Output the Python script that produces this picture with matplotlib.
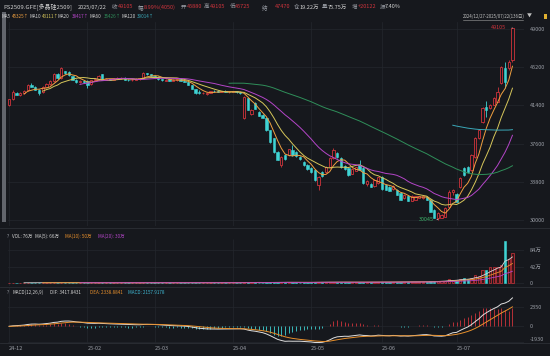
import numpy as np
import pandas as pd
import matplotlib
matplotlib.use("Agg")
import matplotlib.pyplot as plt

plt.rcParams['font.family'] = ['Noto Sans CJK SC', 'DejaVu Sans']

# trading calendar PS2509 (2024/12/27 - 2025/07/22)
holidays = ['2025-01-01', '2025-01-28', '2025-01-29', '2025-01-30', '2025-01-31',
            '2025-02-03', '2025-02-04', '2025-04-04', '2025-05-01', '2025-05-02',
            '2025-05-05', '2025-06-02']
dates = pd.bdate_range('2024-12-27', '2025-07-22')
dates = dates[~dates.isin(pd.to_datetime(holidays))]

opens = [41400, 42050, 42650, 42450, 42650, 42900, 43450, 43250, 42950, 42700,
         43250, 43500, 43800, 44500, 44100, 44800, 44700, 44300, 43950, 43700,
         43800, 43850, 43500, 43900, 44000, 44500, 43950, 44000, 43950, 44050,
         44100, 44150, 43950, 43900, 43950, 44050, 44150, 44600, 44500, 44350,
         44250, 44000, 43850, 44000, 43850, 43900, 44000, 43850, 43750, 43400,
         43000, 42700, 42600, 42550, 42650, 42850, 42800, 42750, 42850, 42700,
         42750, 42800, 42700, 40150, 42100, 40500, 41600, 40750, 40450, 40150,
         38950, 38160, 36770, 35470, 36470, 36470, 36960, 36770, 36270, 35770,
         35470, 35170, 34980, 33480, 34780, 34780, 35270, 36170, 36700, 36170,
         35370, 35170, 34600, 34900, 35470, 35170, 33600, 33580, 33380, 33680,
         34310, 33480, 33280, 33080, 32990, 32690, 32190, 32390, 31900, 32000,
         32200, 32150, 32300, 31990, 30990, 30200, 30200, 30300, 31300, 32800,
         32600, 33300, 35170, 35270, 34980, 36270, 38160, 39700, 41250, 41150,
         41450, 41740, 43630, 45120, 45100, 45880]
highs = [42050, 42950, 42700, 42750, 42900, 43500, 43600, 43300, 43000, 43300,
         43600, 43900, 44600, 44600, 45250, 44850, 44800, 44350, 44000, 43900,
         43900, 43900, 43950, 44100, 44450, 44550, 44100, 44050, 44100, 44200,
         44200, 44200, 44000, 44000, 44100, 44150, 44700, 44650, 44550, 44400,
         44300, 44050, 44000, 44100, 44000, 44050, 44100, 43900, 43800, 43450,
         43050, 42950, 42750, 42700, 42850, 42900, 42900, 42850, 42900, 42800,
         42850, 42850, 42750, 42300, 42150, 41000, 41700, 40850, 40500, 40200,
         39000, 38200, 36850, 36350, 36550, 37100, 37460, 36850, 36350, 35850,
         35550, 35250, 35050, 34350, 34850, 35350, 36250, 37200, 36800, 36250,
         35450, 35200, 35150, 35300, 35970, 35250, 33950, 33650, 34050, 34300,
         34400, 33550, 33350, 33450, 33050, 32750, 32550, 32450, 32450, 32400,
         32400, 32400, 32350, 32050, 31050, 30750, 30550, 31250, 33000, 33100,
         32700, 34300, 35300, 35350, 36550, 38250, 39050, 41250, 41840, 41500,
         42200, 43200, 45300, 45720, 45900, 49105]
lows = [41300, 41950, 42400, 42350, 42550, 42850, 43200, 42900, 42450, 42650,
        43200, 43450, 43750, 44050, 44050, 44500, 44350, 43900, 43650, 43600,
        43650, 43150, 43450, 43850, 43950, 43900, 43900, 43900, 43900, 44000,
        44050, 43900, 43850, 43850, 43900, 43950, 44100, 44450, 44300, 44200,
        43950, 43850, 43800, 43800, 43800, 43850, 43800, 43700, 43400, 43000,
        42550, 42500, 42500, 42450, 42600, 42750, 42700, 42700, 42700, 42650,
        42700, 42650, 42550, 40000, 40900, 40400, 41000, 40300, 40100, 38900,
        37700, 36700, 35950, 35300, 36000, 36400, 36400, 36300, 36000, 35400,
        35000, 34700, 33900, 32990, 34300, 34700, 35200, 36100, 36200, 35200,
        35000, 34400, 34550, 34850, 34950, 33600, 33400, 33250, 33300, 33600,
        33000, 32950, 32850, 33000, 32450, 31950, 32100, 31850, 31850, 31950,
        32150, 32100, 31950, 30750, 30150, 30045, 30150, 30250, 31250, 32500,
        31750, 33200, 34400, 34700, 34900, 36200, 38100, 39600, 40250, 41000,
        41400, 41700, 43550, 43130, 44900, 45725]
closes = [42000, 42750, 42450, 42650, 42800, 43400, 43250, 42950, 42650, 43250,
          43550, 43850, 44500, 44100, 45100, 44600, 44400, 43950, 43700, 43800,
          43750, 43450, 43900, 44050, 44350, 43950, 44000, 43950, 44050, 44150,
          44150, 43950, 43900, 43950, 44050, 44100, 44600, 44500, 44350, 44250,
          44000, 43900, 43950, 43850, 43950, 44000, 43850, 43750, 43450, 43050,
          42650, 42600, 42650, 42650, 42800, 42800, 42750, 42800, 42750, 42750,
          42800, 42700, 42600, 42200, 40950, 40900, 41050, 40350, 40150, 38950,
          37760, 36770, 35970, 36270, 36070, 37060, 36470, 36370, 36070, 35470,
          35070, 34780, 33980, 34280, 34380, 35270, 36170, 36970, 36300, 35270,
          35070, 34480, 35100, 35250, 34980, 33680, 33900, 33280, 33980, 34280,
          33080, 32990, 32890, 33380, 32490, 31990, 32490, 31890, 32400, 32350,
          32350, 32350, 32000, 30800, 30200, 30700, 30500, 31200, 32800, 33000,
          31800, 34200, 34480, 34780, 36470, 38160, 38950, 41150, 40950, 41450,
          42140, 42740, 45220, 43730, 45700, 49105]
# volume in 万手
vols = [0.6, 0.8, 0.5, 0.6, 0.7, 0.9, 0.7, 0.6, 0.8, 0.7,
        0.6, 0.8, 1.0, 0.9, 1.2, 0.9, 0.8, 0.7, 0.6, 0.5,
        0.5, 0.6, 0.5, 0.4, 0.6, 0.7, 0.5, 0.4, 0.5, 0.5,
        0.4, 0.5, 0.4, 0.4, 0.5, 0.5, 0.7, 0.6, 0.5, 0.5,
        0.6, 0.6, 0.5, 0.5, 0.4, 0.5, 0.6, 0.6, 0.8, 0.9,
        1.0, 0.9, 0.8, 0.7, 0.7, 0.6, 0.6, 0.6, 0.7, 0.6,
        0.7, 0.7, 0.8, 2.2, 1.6, 1.4, 1.5, 1.3, 1.2, 1.8,
        2.0, 2.2, 2.0, 1.9, 1.6, 1.8, 1.7, 1.4, 1.3, 1.6,
        1.7, 1.8, 2.2, 2.4, 1.8, 1.9, 2.3, 2.5, 2.0, 2.1,
        1.8, 1.9, 1.7, 1.6, 1.9, 2.6, 2.0, 1.8, 2.0, 2.1,
        2.6, 2.4, 2.3, 2.2, 2.8, 3.2, 2.6, 2.9, 2.7, 2.8,
        2.6, 2.8, 3.0, 4.2, 4.8, 4.5, 5.0, 6.0, 9.0, 7.0,
        8.0, 10.0, 12.0, 11.0, 14.0, 20.0, 18.0, 32.0, 33.0, 40.0,
        42.0, 42.0, 47.0, 107.0, 60.0, 76.0]

ma_periods = [5, 10, 20, 60, 120]
ma_colors = ['#f0a040', '#d6c65a', '#b445c8', '#2f8f5a', '#3aa8b8']
ma_shown = ['45325↑', '43111↑', '38417↑', '35426↑', '39014↑']
price_ticks = [30000, 33800, 37600, 41400, 45200, 49000]
vol_ticks = [0, 42, 84]
macd_ticks = [-1930, 0, 2350]

BG = '#16181d'
RED = '#d0343c'
CYAN = '#3fd3d3'
GRID = '#24272d'
TXT = '#9a9ea6'
WHITE = '#d2d2d2'
ORANGE = '#e8902c'
W, H = 550, 356

o = np.array(opens, float)
h = np.array(highs, float)
l = np.array(lows, float)
c = np.array(closes, float)
v = np.array(vols, float)
x = np.arange(len(c))
up = c >= o

close_s = pd.Series(c)
dif = close_s.ewm(span=12, adjust=False).mean() - close_s.ewm(span=26, adjust=False).mean()
dea = dif.ewm(span=9, adjust=False).mean()
macd = 2 * (dif - dea)

# month starts, skip a label that sits too close to the previous one
month_pos = [0]
for i in range(1, len(dates)):
    if dates[i].month != dates[i - 1].month and i - month_pos[-1] > 8:
        month_pos.append(i)
month_lbl = [dates[i].strftime('%y-%m') for i in month_pos]


def rect(x0, y0, x1, y1):
    return [x0 / W, 1 - y1 / H, (x1 - x0) / W, (y1 - y0) / H]


def style(ax):
    ax.set_facecolor(BG)
    for s in ax.spines.values():
        s.set_visible(False)
    ax.yaxis.tick_right()
    ax.tick_params(length=0, labelsize=4.0, colors=TXT, pad=4)
    ax.set_xticks(month_pos)
    ax.grid(True, color=GRID, lw=0.5)
    ax.set_axisbelow(True)
    ax.set_xlim(-0.3, 138.1)


fig = plt.figure(figsize=(W / 100, H / 100), dpi=100, facecolor=BG)
ax = fig.add_axes(rect(8, 22, 524, 226))
axv = fig.add_axes(rect(8, 229, 524, 286))
axm = fig.add_axes(rect(8, 288, 524, 343))
for a in (ax, axv, axm):
    style(a)
ax.set_xticklabels([])
axv.set_xticklabels([])

# --- price panel
ax.vlines(x, l, h, colors=np.where(up, RED, CYAN), lw=0.6, zorder=2)
body = np.maximum(np.abs(c - o), 25)
ax.bar(x[up], body[up], bottom=np.minimum(o, c)[up], width=0.62,
       facecolor=BG, edgecolor=RED, lw=0.6, zorder=3)
ax.bar(x[~up], body[~up], bottom=np.minimum(o, c)[~up], width=0.62,
       facecolor=CYAN, edgecolor=CYAN, lw=0.4, zorder=3)
for n, col in zip(ma_periods, ma_colors):
    ax.plot(x, close_s.rolling(n).mean(), color=col, lw=0.7, zorder=4)
ax.set_ylim(29400, 49700)
ax.set_yticks(price_ticks)
ax.set_yticklabels([str(t) for t in price_ticks])

hi_i = int(np.argmax(h))
lo_i = int(np.argmin(l))
ax.annotate(f'{int(h[hi_i])}', xy=(hi_i, h[hi_i]), xytext=(hi_i - 1.6, h[hi_i]),
            color=RED, fontsize=3.9, ha='right', va='center',
            arrowprops=dict(arrowstyle='-', color='#c8c8c8', lw=0.6))
ax.annotate(f'{int(l[lo_i])}', xy=(lo_i, l[lo_i]), xytext=(lo_i - 1.0, l[lo_i]),
            color='#3cb36a', fontsize=3.9, ha='right', va='center',
            arrowprops=dict(arrowstyle='-', color='#c8c8c8', lw=0.6))

# --- volume panel
axv.bar(x[up], v[up], width=0.62, facecolor='#3a1518', edgecolor=RED, lw=0.5, zorder=3)
axv.bar(x[~up], v[~up], width=0.62, facecolor=CYAN, edgecolor=CYAN, lw=0.4, zorder=3)
vol_s = pd.Series(v)
for n, col in zip([5, 10, 20], ['#d8d8d8', ORANGE, '#b445c8']):
    axv.plot(x, vol_s.rolling(n).mean(), color=col, lw=0.6, zorder=4)
axv.set_ylim(-7.6, 137.5)
axv.set_yticks(vol_ticks)
axv.set_yticklabels(['0', '42万', '84万'])
axv.grid(False)
axv.vlines(month_pos, -7.6, 112, color=GRID, lw=0.5, zorder=0)
for yy in vol_ticks:
    axv.axhline(yy, color=GRID, lw=0.5, zorder=0)

# --- MACD panel
axm.vlines(x, 0, macd, colors=np.where(macd >= 0, RED, CYAN), lw=0.6, zorder=3)
axm.plot(x, dif, color='#e0e0e0', lw=0.7, zorder=4)
axm.plot(x, dea, color=ORANGE, lw=0.7, zorder=4)
axm.set_ylim(-2000, 4600)
axm.set_yticks(macd_ticks)
axm.set_yticklabels([str(t) for t in macd_ticks])
axm.get_yticklabels()[0].set_va('bottom')
axm.set_xticklabels(month_lbl, ha='left')
axm.tick_params(axis='x', pad=2)

# panel separators and left strip
for yy in [228, 287, 343]:
    fig.add_artist(plt.Line2D([0, 1], [1 - yy / H] * 2, color='#2c2f36', lw=0.6))
fig.add_artist(plt.Rectangle((2 / W, 1 - 222 / H), 4 / W, 210 / H, color='#62656c', lw=0))


def ftext(px, py, s, col=TXT, size=4.0):
    fig.text(px / W, 1 - py / H, s, color=col, fontsize=size, va='center', ha='left')


# header row 1
ftext(3, 7, 'PS2509.GFE[多晶硅2509]', WHITE, 4.3)
ftext(78, 7, '2025/07/22', WHITE)
hdr = [(112, '收', 118, '49105', RED), (138, '幅', 144, '8.99%(4050)', RED),
       (181, '开', 187, '45880', RED), (204, '高', 210, '49105', RED),
       (230, '低', 235, '45725', RED), (262, '结', 275, '47470', RED),
       (294, '仓', 300, '19.22万', WHITE), (322, '量', 328, '75.75万', WHITE),
       (352, '增', 358, '+20122', RED), (380, '振', 385, '7.40%', WHITE)]
for lx, lab, vx, val, col in hdr:
    ftext(lx, 7, lab, TXT)
    ftext(vx, 7, val, col)

# header row 2: MA values
mx = [(2, 12), (30, 42), (58, 72), (90, 104), (122, 137)]
for (lx, vx), n, val, col in zip(mx, ma_periods, ma_shown, ma_colors):
    ftext(lx, 16, f'MA{n}', WHITE, 3.3)
    ftext(vx, 16, val, col, 3.3)
ftext(463, 16, f'{dates[0]:%Y/%m/%d}-{dates[-1]:%Y/%m/%d}({len(dates)}日)', '#c0c0c0', 3.2)
fig.add_artist(plt.Line2D([463 / W, 523 / W], [1 - 19.5 / H] * 2, color='#a0a0a0', lw=0.4))
ftext(527, 16, '▼', '#c0c0c0', 3.6)
fig.add_artist(plt.Rectangle((544 / W, 1 - 19 / H), 3 / W, 5 / H, color='#e0b030', lw=0))

# volume title
ftext(7, 236, '?', TXT, 3.4)
for px, s, col in [(12, 'VOL: 76万', WHITE), (35, 'MA(5): 66万', WHITE),
                   (65, 'MA(10): 50万', ORANGE), (98, 'MA(20): 30万', '#b445c8')]:
    ftext(px, 236, s, col, 3.3)

# MACD title
ftext(7, 292, '?', TXT, 3.4)
for px, s, col in [(12, 'MACD(12,26,9)', WHITE), (50, 'DIF: 3417.8431', WHITE),
                   (90, 'DEA: 2338.8841', ORANGE), (128, 'MACD: 2157.9178', '#3fb8d3')]:
    ftext(px, 292, s, col, 3.3)

fig.savefig('out.png', dpi=100, facecolor=BG)
